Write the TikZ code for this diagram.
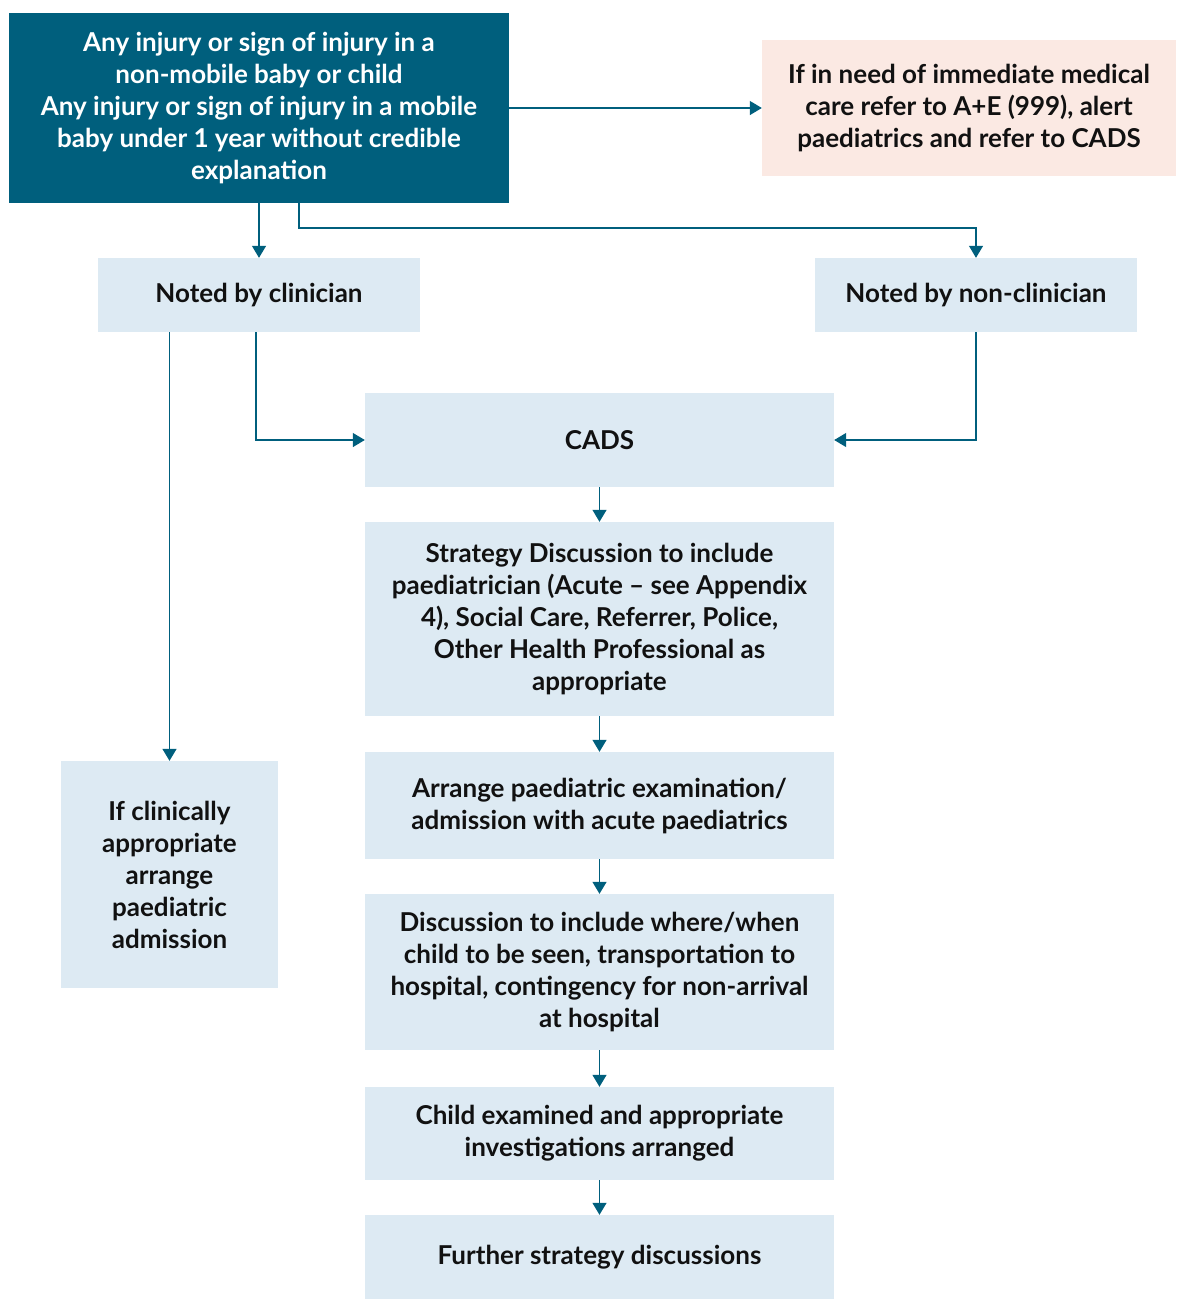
\documentclass[tikz,border=0pt]{standalone}
\usepackage{fontspec}
\setmainfont{Lato}
\usetikzlibrary{arrows.meta,positioning}
\usepackage{xcolor}
\definecolor{teal}{HTML}{005F7D}
\definecolor{paleblue}{HTML}{DDEAF3}
\definecolor{palepink}{HTML}{FBE9E3}
\definecolor{ink}{HTML}{111111}
\tikzset{
  box/.style={align=center, inner sep=0pt, font=\fontsize{26}{32}\selectfont\bfseries, text=ink},
  bluebox/.style={box, fill=paleblue},
  pinkbox/.style={box, fill=palepink},
  topbox/.style={box, fill=teal, text=white},
  arrow/.style={-{Triangle[length=12pt,width=14pt]}, line width=1.3pt, draw=teal}
}
\begin{document}
\begin{tikzpicture}[x=1pt, y=-1pt]
  \useasboundingbox (0,0) rectangle (1176,1299);

  % top row
  \node[topbox, minimum width=500pt, minimum height=190pt] (injury) at (259,108)
    {Any injury or sign of injury in a\\non-mobile baby or child\\Any injury or sign of injury in a mobile\\baby under 1 year without credible\\explanation};
  \node[pinkbox, minimum width=414pt, minimum height=136pt] (urgent) at (969,108)
    {If in need of immediate medical\\care refer to A+E (999), alert\\paediatrics and refer to CADS};

  % who noticed it
  \node[bluebox, minimum width=322pt, minimum height=74pt] (clin) at (259,295) {Noted by clinician};
  \node[bluebox, minimum width=322pt, minimum height=74pt] (nonclin) at (976,295) {Noted by non-clinician};

  % central column
  \node[bluebox, minimum width=469pt, minimum height=94pt] (cads) at (599.5,440) {CADS};
  \node[bluebox, minimum width=469pt, minimum height=194pt] (strategy) at (599.5,619)
    {Strategy Discussion to include\\paediatrician (Acute -- see Appendix\\4), Social Care, Referrer, Police,\\Other Health Professional as\\appropriate};
  \node[bluebox, minimum width=469pt, minimum height=107pt] (exam) at (599.5,805.5)
    {Arrange paediatric examination/\\admission with acute paediatrics};
  \node[bluebox, minimum width=469pt, minimum height=156pt] (where) at (599.5,972)
    {Discussion to include where/when\\child to be seen, transportation to\\hospital, contingency for non-arrival\\at hospital};
  \node[bluebox, minimum width=469pt, minimum height=93pt] (examined) at (599.5,1133.5)
    {Child examined and appropriate\\investigations arranged};
  \node[bluebox, minimum width=469pt, minimum height=84pt] (further) at (599.5,1257)
    {Further strategy discussions};

  % left column
  \node[bluebox, minimum width=217pt, minimum height=227pt] (admit) at (169.5,874.5)
    {If clinically\\appropriate\\arrange\\paediatric\\admission};

  % connectors from the top box
  \coordinate (split) at (299,228);
  \draw[arrow] (injury.east) -- (urgent.west);
  \draw[arrow] (injury.south) -- (clin.north);
  \draw[arrow] (injury.south -| split) -- (split) -| (nonclin.north);

  % into CADS and the left column
  \draw[arrow] ([xshift=-3pt]clin.south) |- (cads.west);
  \draw[arrow] (nonclin.south) |- (cads.east);
  \draw[arrow] (admit.north |- clin.south) -- (admit.north);

  % down the central column
  \draw[arrow] (cads.south) -- (strategy.north);
  \draw[arrow] (strategy.south) -- (exam.north);
  \draw[arrow] (exam.south) -- (where.north);
  \draw[arrow] (where.south) -- (examined.north);
  \draw[arrow] (examined.south) -- (further.north);
\end{tikzpicture}
\end{document}
